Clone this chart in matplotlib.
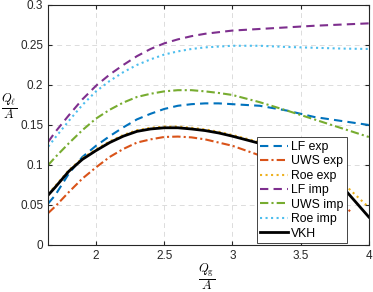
import matplotlib
matplotlib.use("Agg")
import matplotlib.pyplot as plt

plt.rcParams['font.family'] = ['Liberation Sans', 'DejaVu Sans']
plt.rcParams['mathtext.fontset'] = 'cm'

# values
x = [1.65, 1.7, 1.8, 1.9, 2.0, 2.1, 2.2, 2.3, 2.4, 2.5, 2.6, 2.7, 2.8, 2.9,
     3.0, 3.2, 3.4, 3.6, 3.8, 4.0]
lf_exp = [0.052, 0.062, 0.089, 0.110, 0.124, 0.136, 0.147, 0.157, 0.164, 0.170,
          0.174, 0.176, 0.177, 0.177, 0.176, 0.174, 0.168, 0.160, 0.155, 0.150]
x_uws = [1.65, 1.7, 1.8, 1.9, 2.0, 2.1, 2.2, 2.3, 2.4, 2.5, 2.6, 2.7, 2.8, 2.9,
         3.0, 3.2, 3.4, 3.6, 3.8, 3.87]
uws_exp = [0.040, 0.048, 0.066, 0.083, 0.097, 0.110, 0.120, 0.128, 0.132, 0.135,
           0.1355, 0.1345, 0.132, 0.128, 0.124, 0.112, 0.096, 0.077, 0.052, 0.041]
roe_exp = [0.064, 0.0735, 0.0935, 0.1085, 0.1195, 0.1295, 0.1375, 0.1435, 0.1465, 0.148,
           0.148, 0.1465, 0.1445, 0.1415, 0.1375, 0.1285, 0.1145, 0.100, 0.079, 0.047]
lf_imp = [0.129, 0.141, 0.162, 0.182, 0.199, 0.213, 0.225, 0.236, 0.245, 0.252,
          0.257, 0.261, 0.264, 0.266, 0.268, 0.270, 0.272, 0.274, 0.2755, 0.277]
uws_imp = [0.100, 0.1095, 0.127, 0.1435, 0.158, 0.169, 0.178, 0.185, 0.189, 0.192,
           0.1935, 0.1935, 0.192, 0.190, 0.1875, 0.1785, 0.168, 0.157, 0.146, 0.135]
roe_imp = [0.123, 0.134, 0.155, 0.175, 0.192, 0.205, 0.216, 0.225, 0.232, 0.238,
           0.242, 0.245, 0.247, 0.248, 0.249, 0.249, 0.2475, 0.2465, 0.2455, 0.245]
vkh = [0.0625, 0.072, 0.092, 0.107, 0.118, 0.128, 0.136, 0.142, 0.145, 0.1465,
       0.1465, 0.145, 0.143, 0.140, 0.136, 0.127, 0.113, 0.097, 0.074, 0.035]

xticks = [2, 2.5, 3, 3.5, 4]
yticks = [0, 0.05, 0.1, 0.15, 0.2, 0.25, 0.3]

fig = plt.figure(figsize=(3.73, 2.92), dpi=100)
ax = fig.add_axes([0.1287, 0.161, 0.860, 0.822])

dash = (0, (4, 2.5))
dashdot = (0, (4, 1.5, 1, 1.5))
ax.plot(x, lf_exp, linestyle=dash, color='#0072BD', lw=1.5, label='LF exp')
ax.plot(x_uws, uws_exp, linestyle=dashdot, color='#D95319', lw=1.5, label='UWS exp')
ax.plot(x, roe_exp, ':', color='#EDB120', lw=1.5, label='Roe exp')
ax.plot(x, lf_imp, linestyle=dash, color='#7E2F8E', lw=1.5, label='LF imp')
ax.plot(x, uws_imp, linestyle=dashdot, color='#77AC30', lw=1.5, label='UWS imp')
ax.plot(x, roe_imp, ':', color='#4DBEEE', lw=1.5, label='Roe imp')
ax.plot(x, vkh, '-', color='black', lw=2, label='VKH')

ax.set_xlim(1.648, 4)
ax.set_ylim(0, 0.3)
ax.set_xticks(xticks)
ax.set_xticklabels(['2', '2.5', '3', '3.5', '4'])
ax.set_yticks(yticks)
ax.set_yticklabels(['0', '0.05', '0.1', '0.15', '0.2', '0.25', '0.3'])
ax.tick_params(direction='in', top=True, right=True, labelsize=8.5,
               colors='#262626', length=3)
for s in ax.spines.values():
    s.set_color('#262626')
    s.set_linewidth(0.8)
ax.grid(True, linestyle=(0, (5, 4)), color='#dcdcdc', linewidth=0.7)

ax.set_xlabel(r'$\frac{Q_\mathrm{g}}{A}$', fontsize=13, va='center')
ax.xaxis.set_label_coords(0.495, -0.135)
ax.set_ylabel(r'$\frac{Q_\ell}{A}$', fontsize=13, rotation=0, va='center', ha='center')
ax.yaxis.set_label_coords(-0.122, 0.575)

leg = ax.legend(loc='lower right', bbox_to_anchor=(0.932, 0.007), fontsize=8.8,
                handlelength=2.3, labelspacing=0.2, borderpad=0.3,
                handletextpad=0.2, fancybox=False, framealpha=1,
                edgecolor='#262626', borderaxespad=0)
leg.get_frame().set_linewidth(0.6)

fig.savefig('out.png', dpi=100)
